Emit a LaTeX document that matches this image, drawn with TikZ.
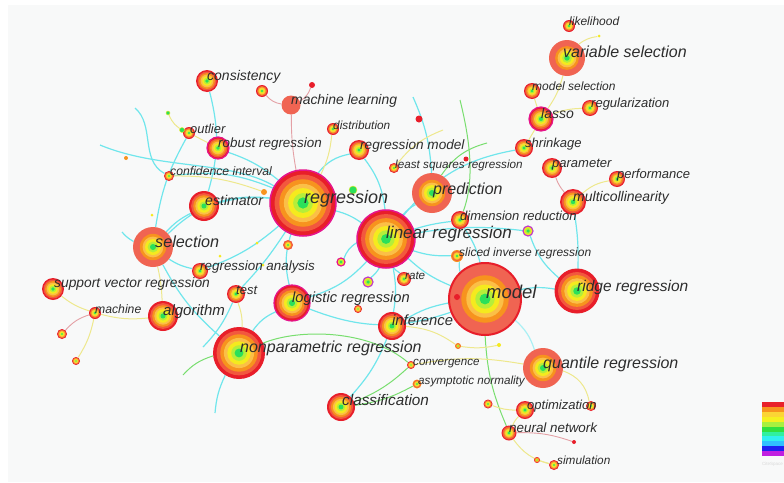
\documentclass[tikz,border=0pt]{standalone}
\usepackage{fontspec}
\newfontfamily\kwfont{Liberation Sans}

\definecolor{bggrey}{RGB}{248,249,249}
\definecolor{ringred}{RGB}{232,30,42}
\definecolor{ringtomato}{RGB}{242,88,62}
\definecolor{ringsalmon}{RGB}{240,100,82}
\definecolor{ringorange}{RGB}{247,147,30}
\definecolor{ringlight}{RGB}{251,191,71}
\definecolor{ringyellow}{RGB}{245,234,30}
\definecolor{ringlime}{RGB}{181,238,58}
\definecolor{ringgreen}{RGB}{43,224,90}
\definecolor{ringmag}{RGB}{230,20,140}
\definecolor{ringviolet}{RGB}{190,60,200}
\definecolor{linkcyan}{RGB}{112,230,236}
\definecolor{linkgreen}{RGB}{120,222,110}
\definecolor{linkyellow}{RGB}{238,232,140}
\definecolor{linkpink}{RGB}{228,160,165}
\definecolor{labelgrey}{RGB}{45,45,45}
\definecolor{lg1}{RGB}{232,32,42}
\definecolor{lg2}{RGB}{247,148,29}
\definecolor{lg3}{RGB}{251,213,53}
\definecolor{lg4}{RGB}{245,240,32}
\definecolor{lg5}{RGB}{168,240,64}
\definecolor{lg6}{RGB}{48,224,64}
\definecolor{lg7}{RGB}{48,240,160}
\definecolor{lg8}{RGB}{48,240,240}
\definecolor{lg9}{RGB}{48,192,255}
\definecolor{lg10}{RGB}{32,32,240}
\definecolor{lg11}{RGB}{192,32,224}

\pgfdeclarelayer{back}
\pgfdeclarelayer{links}
\pgfsetlayers{back,links,main}

\tikzset{
  kwnode/.style={circle,inner sep=0pt},
  lbl/.style={anchor=base west,inner sep=0pt,yshift=-0.26*#1pt,text=labelgrey,
    font=\kwfont\itshape\fontsize{#1}{#1}\selectfont},
  rdot/.style={circle,fill=ringred,inner sep=0pt,minimum size=#1pt},
  ydot/.style={circle,fill=ringyellow,inner sep=0pt,minimum size=#1pt},
  odot/.style={circle,fill=ringorange,inner sep=0pt,minimum size=#1pt},
  gdot/.style={circle,fill=ringgreen,draw=ringyellow,inner sep=0pt,minimum size=#1pt},
  cyanlink/.style={draw=linkcyan,line width=1.2pt},
  greenlink/.style={draw=linkgreen,line width=1pt},
  yellowlink/.style={draw=linkyellow,line width=1pt},
  pinklink/.style={draw=linkpink,line width=0.9pt}
}

% keyword node: red tree rings, green core
\newcommand{\kw}[4][]{%
  \path[fill=ringred,#1] (#3) circle[radius=#4pt];
  \fill[ringtomato] (#3) circle[radius=0.86*#4pt];
  \fill[ringorange] (#3) circle[radius=0.72*#4pt];
  \fill[ringlight] (#3) circle[radius=0.58*#4pt];
  \fill[ringyellow] (#3) circle[radius=0.45*#4pt];
  \fill[ringlime] (#3) circle[radius=0.30*#4pt];
  \fill[ringgreen] (#3) circle[radius=0.17*#4pt];
  \node[kwnode,minimum size=2*#4pt] (#2) at (#3) {};
}
% burst keyword node: wide salmon outer ring
\newcommand{\kwb}[4][]{%
  \path[fill=ringsalmon,#1] (#3) circle[radius=#4pt];
  \fill[ringorange] (#3) circle[radius=0.66*#4pt];
  \fill[ringlight] (#3) circle[radius=0.52*#4pt];
  \fill[ringyellow] (#3) circle[radius=0.40*#4pt];
  \fill[ringlime] (#3) circle[radius=0.27*#4pt];
  \fill[ringgreen] (#3) circle[radius=0.15*#4pt];
  \node[kwnode,minimum size=2*#4pt] (#2) at (#3) {};
}
% young keyword node: coloured rim, yellow/green core
\newcommand{\kwg}[4][]{%
  \path[fill=ringyellow,draw=ringviolet,line width=1.2pt,#1] (#3) circle[radius=#4pt];
  \fill[ringlime] (#3) circle[radius=0.6*#4pt];
  \fill[ringgreen] (#3) circle[radius=0.35*#4pt];
  \node[kwnode,minimum size=2*#4pt] (#2) at (#3) {};
}

\begin{document}
\begin{tikzpicture}[x=1pt,y=-1pt]
\useasboundingbox (0,0) rectangle (784,482);
\begin{pgfonlayer}{back}
\fill[white] (0,0) rectangle (784,482);
\fill[bggrey] (8,5) rectangle (784,482);
\end{pgfonlayer}

% keyword nodes
\kw{likelihood}{569,26}{6}
\node[ydot=3] (lkdot) at (599,36) {};
\kwb{varsel}{567,58}{18}
\kw{modelsel}{532,91}{8}
\kw{regularization}{590,108}{8}
\kw[draw=ringmag,line width=1.2pt]{lasso}{541,119}{12}
\kw{shrinkage}{524,148}{9}
\kw{parameter}{552,168}{10}
\kw{performance}{617,179}{8}
\kw{multicol}{573,202}{13}
\kw{dimred}{460,220}{9}
\kwg{gnode}{528,231}{5}
\kw[fill=ringorange]{sliced}{457,256}{6}
\kw[draw=ringred,line width=1pt]{ridge}{577,291}{22}
\kwb[draw=ringred,line width=2pt]{model}{485,299}{36}
\node[rdot=6] (rdot5) at (457,297) {};
\kw{rate}{404,279}{7}
\kw{inference}{392,326}{14}
\kwb{quantile}{543,368}{20}
\kw{convergence}{411,365}{4}
\kw[fill=ringorange]{asymp}{417,384}{4.5}
\kw[fill=ringorange]{ydot1}{458,346}{3}
\node[ydot=4] (ydot2) at (499,345) {};
\kw{rnode1}{488,404}{4.5}
\kw{optimization}{525,410}{9}
\kw{rnode2}{591,406}{5}
\kw{neural}{509,433}{7.5}
\node[rdot=4] (rdot4) at (574,442) {};
\kw{rnode3}{537,460}{3}
\kw{simulation}{554,465}{5}
\kw{classification}{341,407}{14}
\kw{nonpar}{239,353}{26}
\kw[draw=ringmag,line width=1.2pt]{logistic}{292,303}{18}
\kw{rnode4}{358,309}{4}
\kw{test}{236,294}{9}
\kw{reganalysis}{200,271}{8}
\kw{algorithm}{163,316}{15}
\kw{svr}{53,289}{11}
\kw{machine}{95,313}{6}
\kw{rnode5}{62,334}{5}
\kw{rnode6}{76,361}{4}
\kwb{selection}{153,247}{20}
\kw{estimator}{204,206}{15}
\kw{confint}{169,176}{5}
\kw{outlier}{189,133}{6}
\node[gdot=4] (gdot1) at (168,113) {};
\node[gdot=5] (gdot2) at (182,130) {};
\node[odot=4] (odot2) at (126,158) {};
\kw[draw=ringmag,line width=1.2pt]{robust}{218,148}{11}
\kw{consistency}{207,81}{11}
\kw{rnode7}{262,91}{6}
\node[rdot=6] (rdot1) at (312,85) {};
\node[kwnode,fill=ringsalmon,minimum size=19pt] (mlearning) at (291,105) {};
\kw{distribution}{333,129}{6}
\kw{regmodel}{359,150}{10}
\kw{lsq}{394,168}{5}
\node[rdot=7] (rdot2) at (419,119) {};
\node[rdot=5] (rdot3) at (466,159) {};
\kw[draw=ringmag,line width=1.5pt]{regression}{303,203}{33}
\kw[draw=ringmag,line width=1.5pt]{linreg}{386,239}{29}
\kwb{prediction}{432,193}{20}
\node[gdot=8] (gdot3) at (353,190) {};
\node[odot=6] (odot1) at (264,192) {};
\kw[fill=ringtomato]{onode}{288,245}{5}
\kwg[draw=ringmag]{mnode}{341,262}{4}
\kwg{vnode}{368,282}{5}
\node[ydot=3] (ydot3) at (152,215) {};
\node[ydot=3] (ydot4) at (257,243) {};
\node[ydot=3] (ydot5) at (220,256) {};
\node[ydot=3] (ydot6) at (263,265) {};

% free ends of links
\coordinate (fnA) at (215,413);
\coordinate (fnB) at (203,347);
\coordinate (fnC) at (100,145);
\coordinate (fnD) at (135,108);
\coordinate (fnE) at (122,232);
\coordinate (fnF) at (413,97);
\coordinate (fnG) at (183,375);
\coordinate (fnH) at (460,100);
\coordinate (fnI) at (487,143);
\coordinate (fnJ) at (443,130);

\begin{pgfonlayer}{links}
\draw[cyanlink] (regression) to[bend right=10] (estimator);
\draw[cyanlink] (regression) to[bend right=25] (selection);
\draw[cyanlink] (regression) to[bend right=15] (confint);
\draw[cyanlink] (regression) to[bend right=10] (robust);
\draw[cyanlink] (consistency) to[bend left=15] (estimator);
\draw[cyanlink] (outlier) to[bend right=10] (selection);
\draw[cyanlink] (regression) to[bend left=10] (linreg);
\draw[cyanlink] (regression) to[bend right=15] (logistic);
\draw[cyanlink] (regression) to[bend left=10] (reganalysis);
\draw[cyanlink] (regression) to[bend left=5] (test);
\draw[cyanlink] (regression) to[bend left=20] (regmodel);
\draw[cyanlink] (linreg) to[bend right=10] (model);
\draw[cyanlink] (linreg) to[bend left=10] (prediction);
\draw[cyanlink] (linreg) to[bend left=5] (dimred);
\draw[cyanlink] (linreg) to[bend left=8] (gnode);
\draw[cyanlink] (linreg) to[bend left=15] (logistic);
\draw[cyanlink] (linreg) to[bend left=10] (inference);
\draw[cyanlink] (linreg) to[bend right=10] (rate);
\draw[cyanlink] (linreg) to[bend left=10] (vnode);
\draw[cyanlink] (linreg) to[bend right=10] (sliced);
\draw[cyanlink] (linreg) to[bend right=20] (mnode);
\draw[cyanlink] (model) to[bend left=10] (ridge);
\draw[cyanlink] (model) to[bend left=10] (sliced);
\draw[cyanlink] (model) to[bend right=10] (inference);
\draw[cyanlink,draw=linkcyan!60] (model) to[bend left=15] (quantile);
\draw[cyanlink] (model) to[bend left=20] (logistic);
\draw[cyanlink] (model) to[bend right=10] (dimred);
\draw[cyanlink] (gnode) to[bend right=15] (ridge);
\draw[cyanlink] (multicol) to[bend left=5] (ridge);
\draw[cyanlink] (shrinkage) to[bend right=20] (linreg);
\draw[cyanlink] (regmodel) to[bend left=15] (linreg);
\draw[cyanlink] (nonpar) to[bend left=15] (logistic);
\draw[cyanlink] (nonpar) to[bend left=10] (selection);
\draw[cyanlink] (inference) to[bend left=10] (classification);
\draw[cyanlink] (selection) to[bend left=10] (estimator);
\draw[cyanlink] (selection) to[bend right=10] (reganalysis);
\draw[cyanlink] (nonpar) to[bend right=10] (fnA);
\draw[cyanlink] (test) to[bend left=10] (fnB);
\draw[cyanlink] (regression) .. controls (230,160) and (160,170) .. (fnC);
\draw[cyanlink] (confint) .. controls (140,160) and (155,125) .. (fnD);
\draw[cyanlink] (selection) to[bend left=10] (fnE);
\draw[cyanlink] (fnF) to[bend left=10] (prediction);
\draw[greenlink] (nonpar) .. controls (300,328) and (370,330) .. (convergence);
\draw[greenlink] (classification) to[bend right=10] (convergence);
\draw[greenlink] (classification) to[bend right=10] (asymp);
\draw[greenlink] (model) to[bend right=10] (neural);
\draw[greenlink] (fnG) to[bend left=15] (nonpar);
\draw[greenlink] (fnH) .. controls (470,140) and (475,180) .. (dimred);
\draw[greenlink] (fnI) to[bend right=20] (prediction);
\draw[yellowlink] (lasso) to[bend right=10] (varsel);
\draw[yellowlink] (lasso) to[bend left=10] (regularization);
\draw[yellowlink] (lasso) to (shrinkage);
\draw[yellowlink] (modelsel) to (lasso);
\draw[yellowlink] (varsel) to[bend left=15] (lkdot);
\draw[yellowlink] (performance) to[bend right=15] (multicol);
\draw[yellowlink] (quantile) to[bend left=30] (rnode2);
\draw[yellowlink] (inference) to[bend left=15] (ydot1);
\draw[yellowlink] (ydot1) to[bend right=10] (ydot2);
\draw[yellowlink] (convergence) to[bend left=10] (quantile);
\draw[yellowlink] (rnode1) to[bend right=10] (optimization);
\draw[yellowlink] (optimization) to[bend right=10] (neural);
\draw[yellowlink] (neural) to[bend right=20] (simulation);
\draw[yellowlink] (rnode3) to (simulation);
\draw[yellowlink] (svr) to[bend right=10] (machine);
\draw[yellowlink] (machine) to[bend right=10] (algorithm);
\draw[yellowlink] (machine) to[bend left=10] (rnode6);
\draw[yellowlink] (selection) to[bend left=5] (algorithm);
\draw[yellowlink] (nonpar) to[bend right=10] (test);
\draw[yellowlink] (regression) to[bend right=10] (distribution);
\draw[yellowlink] (robust) to (outlier);
\draw[yellowlink] (outlier) to[bend left=20] (gdot1);
\draw[yellowlink] (confint) to[bend left=10] (odot1);
\draw[yellowlink] (lsq) to[bend left=15] (fnJ);
\draw[pinklink] (mlearning) to[bend right=5] (regression);
\draw[pinklink] (mlearning) to[bend left=20] (rnode7);
\draw[pinklink] (mlearning) to[bend right=20] (rdot1);
\draw[pinklink] (parameter) to[bend right=10] (multicol);
\draw[pinklink] (machine) to[bend right=15] (rnode5);
\draw[pinklink] (neural) to[bend left=10] (rdot4);
\end{pgfonlayer}

% labels
\node[lbl=12] (l-likelihood) at (569,22) {likelihood};
\node[lbl=16] (l-varsel) at (563,53) {variable selection};
\node[lbl=12] (l-modelsel) at (532,87) {model selection};
\node[lbl=13] (l-regularization) at (591,104) {regularization};
\node[lbl=14] (l-lasso) at (541,115) {lasso};
\node[lbl=13] (l-shrinkage) at (525,144) {shrinkage};
\node[lbl=13] (l-parameter) at (552,164) {parameter};
\node[lbl=13] (l-performance) at (617,175) {performance};
\node[lbl=14] (l-multicol) at (573,198) {multicollinearity};
\node[lbl=13] (l-dimred) at (460,217) {dimension reduction};
\node[lbl=12] (l-sliced) at (459,253) {sliced inverse regression};
\node[lbl=15.5] (l-ridge) at (577,287) {ridge regression};
\node[lbl=18.5] (l-model) at (486,294) {model};
\node[lbl=11.6] (l-rate) at (405,276) {rate};
\node[lbl=14.8] (l-inference) at (392,322) {inference};
\node[lbl=16] (l-quantile) at (543,364) {quantile regression};
\node[lbl=11.6] (l-convergence) at (413,362) {convergence};
\node[lbl=11.7] (l-asymp) at (418,381) {asymptotic normality};
\node[lbl=13] (l-optimization) at (527,406) {optimization};
\node[lbl=13.4] (l-neural) at (509,429) {neural network};
\node[lbl=11.8] (l-simulation) at (557,461) {simulation};
\node[lbl=15.3] (l-classification) at (342,402) {classification};
\node[lbl=16] (l-nonpar) at (240,348) {nonparametric regression};
\node[lbl=14.7] (l-logistic) at (292,299) {logistic regression};
\node[lbl=13] (l-test) at (236,291) {test};
\node[lbl=13.4] (l-reganalysis) at (200,267) {regression analysis};
\node[lbl=15] (l-algorithm) at (163,312) {algorithm};
\node[lbl=13.8] (l-svr) at (54,284) {support vector regression};
\node[lbl=12.2] (l-machine) at (95,310) {machine};
\node[lbl=16.2] (l-selection) at (155,243) {selection};
\node[lbl=14.1] (l-estimator) at (205,202) {estimator};
\node[lbl=12.2] (l-confint) at (170,172) {confidence interval};
\node[lbl=12.9] (l-outlier) at (190,130) {outlier};
\node[lbl=13.4] (l-robust) at (218,144) {robust regression};
\node[lbl=14] (l-consistency) at (207,77) {consistency};
\node[lbl=13.9] (l-mlearning) at (291,101) {machine learning};
\node[lbl=11.8] (l-distribution) at (333,126) {distribution};
\node[lbl=13.6] (l-regmodel) at (360,146) {regression model};
\node[lbl=11.7] (l-lsq) at (395,165) {least squares regression};
\node[lbl=18] (l-regression) at (304,199) {regression};
\node[lbl=17] (l-linreg) at (386,234) {linear regression};
\node[lbl=16] (l-prediction) at (433,190) {prediction};

% colour legend
\foreach \i in {1,...,11}
  \fill[lg\i] (762,{397.2+\i*4.9}) rectangle (784,{402.1+\i*4.9});
\node[text=black!15,font=\kwfont\fontsize{4.5}{4.5}\selectfont,anchor=east,inner sep=0pt] (logo) at (783,464) {CiteSpace};
\end{tikzpicture}
\end{document}
